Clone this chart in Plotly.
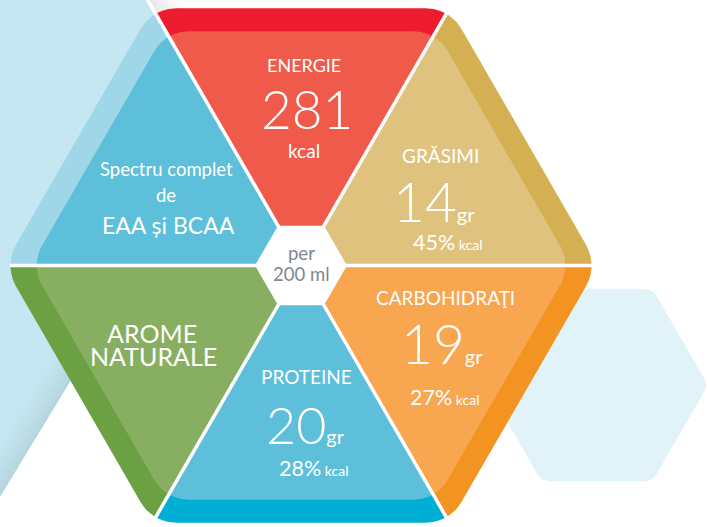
import numpy as np
import plotly.graph_objects as go

# ---------------- data ----------------
nutrients = ["ENERGIE", "GRĂSIMI", "CARBOHIDRAŢI", "PROTEINE"]
amounts = [281, 14, 19, 20]
units = ["kcal", "gr", "gr", "gr"]
kcal_percent = [None, 45, 27, 28]
feature_lines = ["Spectru complet", "de", "EAA și BCAA", "AROME", "NATURALE"]
serving_lines = ["per", "200 ml"]

# ---------------- geometry / style ----------------
W, H = 707, 527
CX, CY, R = 301.0, 265.5, 297.0
OUT_RND = 42
BAND = 23
IN_RND = 40
SMALL_R = 46
GAP_W = 3.5
FONT = "Lato, 'Open Sans', sans-serif"
TXT_W = 400
NUM_W = 300

# sector k lies between hexagon vertex k and k+1 (vertex k at 60k deg, counter-clockwise)
SECTOR_BAND = ["#D4B052", "#ED1C2E", "#9FD7E9", "#6BA043", "#00AFD3", "#F39321"]
SECTOR_FILL = ["#DFC27E", "#F05A4A", "#5DBFDA", "#88AF61", "#5DBFDA", "#F8A64F"]
BG_BLUE = "#C5E7F2"
PALE_HEX = "#E1F3F8"
GREY_TXT = "#7D8790"

LABEL_XY = [(304, 65), (440, 155.5), (445, 297.5), (306, 376.5)]
LABEL_SIZE = [18, 19, 19, 19]
VALUE_XY = [(307, 108.5), (434, 200.5), (441.5, 342.5), (305, 424)]
VALUE_SIZE = [53, 55, 55, 52]
ENERGY_UNIT_XY = (304, 150)
PCT_XY = [None, (447, 242), (444, 396.5), (313, 467.5)]
FEATURE_XY = [(166, 168.5), (166, 194.5), (168, 224.5), (152, 332.5), (153.5, 356)]
FEATURE_SIZE = [18.5, 18.5, 23, 25, 25]
SERVING_XY = [(301, 252.5), (301, 274)]


def hex_vertices(cx, cy, r):
    return [np.array([cx + r * np.cos(np.radians(60 * k)), cy - r * np.sin(np.radians(60 * k))])
            for k in range(6)]


def corner_arc(prev, p, nxt, rad, n=17):
    if rad <= 0:
        return [p]
    u1 = (prev - p) / np.linalg.norm(prev - p)
    u2 = (nxt - p) / np.linalg.norm(nxt - p)
    ang = np.arccos(np.clip(np.dot(u1, u2), -1, 1))
    d = rad / np.tan(ang / 2)
    t1 = p + u1 * d
    t2 = p + u2 * d
    bis = (u1 + u2) / np.linalg.norm(u1 + u2)
    o = p + bis * rad / np.sin(ang / 2)
    a1 = np.arctan2(t1[1] - o[1], t1[0] - o[0])
    a2 = np.arctan2(t2[1] - o[1], t2[0] - o[0])
    da = (a2 - a1 + np.pi) % (2 * np.pi) - np.pi
    return [o + rad * np.array([np.cos(a1 + da * s), np.sin(a1 + da * s)]) for s in np.linspace(0, 1, n)]


def to_path(pts, close=True):
    s = "M " + " L ".join(f"{p[0]:.2f},{p[1]:.2f}" for p in pts)
    return s + (" Z" if close else "")


def rounded_poly(pts, rads):
    out = []
    n = len(pts)
    for i in range(n):
        out += corner_arc(pts[i - 1], pts[i], pts[(i + 1) % n], rads[i])
    return out


shapes = []


def add_path(pts, color, close=True):
    shapes.append(dict(type="path", path=to_path(pts, close), xref="x", yref="y",
                       fillcolor=color, line=dict(width=0), layer="above"))


def add_line(p, q, color, width):
    shapes.append(dict(type="line", x0=p[0], y0=p[1], x1=q[0], y1=q[1], xref="x", yref="y",
                       line=dict(color=color, width=width), layer="above"))


C = np.array([CX, CY])
V = hex_vertices(CX, CY, R)

# ---- background light-blue area on the left ----
v2dir = (V[2] - C)
p_top = C + v2dir * (CY / (CY - V[2][1]))
apex = C + v2dir * ((CY - 132) / (CY - V[2][1]))
p_low = np.array([0.0, 500.0])
add_path([np.array([-5.0, -5.0]), p_top + np.array([-3, -5]), apex, p_low + np.array([-5, 8])], BG_BLUE)


def shadow(a, b, normal, steps=12, step=2.6, alpha0=0.10):
    for j in range(steps):
        o1 = 1.5 + j * step
        o2 = o1 + step
        al = alpha0 * (1 - j / steps) ** 1.5
        add_path([a + normal * o1, b + normal * o1, b + normal * o2, a + normal * o2],
                 f"rgba(60,60,60,{al:.3f})")


d_low = (p_low - apex) / np.linalg.norm(p_low - apex)
shadow(apex, p_low + d_low * 40, np.array([d_low[1], -d_low[0]]) * -1)
d_top = (apex - p_top) / np.linalg.norm(apex - p_top)
shadow(p_top - d_top * 10, apex, np.array([d_top[1], -d_top[0]]), alpha0=0.12)

add_line(p_top - d_top * 5, apex, "white", 3)
add_line(apex, p_low + d_low * 40, "white", 3)

# ---- pale hexagon on the right ----
PV = hex_vertices(597, 385, 111)
add_path(rounded_poly(PV, [14] * 6), PALE_HEX)

# ---- main hexagon sectors ----
arcs = [corner_arc(V[k - 1], V[k], V[(k + 1) % 6], OUT_RND) for k in range(6)]
R_in = R - BAND / np.sin(np.pi / 3)
VI = hex_vertices(CX, CY, R_in)
arcs_in = [corner_arc(VI[k - 1], VI[k], VI[(k + 1) % 6], IN_RND) for k in range(6)]
for k in range(6):
    add_path([C] + arcs[k][8:] + arcs[(k + 1) % 6][:9], SECTOR_BAND[k])
for k in range(6):
    add_path([C] + arcs_in[k][8:] + arcs_in[(k + 1) % 6][:9], SECTOR_FILL[k])

# white gaps between sectors
tip = R - OUT_RND * (1 / np.sin(np.pi / 3) - 1) + 0.5
for k in range(6):
    u = (V[k] - C) / R
    end = p_top if k == 2 else C + u * tip
    add_line(C, end, "white", GAP_W)

# centre white hexagon
SV = hex_vertices(CX, CY, SMALL_R)
add_path(rounded_poly(SV, [3] * 6), "white")

# ---------------- text ----------------
ann = []


def text(x, y, t, size, color="white", weight=TXT_W):
    ann.append(dict(x=x, y=y, xref="x", yref="y", text=t, showarrow=False,
                    xanchor="center", yanchor="middle",
                    font=dict(family=FONT, size=size, color=color, weight=weight)))


for i, name in enumerate(nutrients):
    text(LABEL_XY[i][0], LABEL_XY[i][1], name, LABEL_SIZE[i])
    if units[i] == "kcal":
        text(VALUE_XY[i][0], VALUE_XY[i][1], str(amounts[i]), VALUE_SIZE[i], weight=NUM_W)
        text(ENERGY_UNIT_XY[0], ENERGY_UNIT_XY[1], units[i], 19)
    else:
        text(VALUE_XY[i][0], VALUE_XY[i][1],
             f"{amounts[i]}<span style='font-size:20px;font-weight:400'>{units[i]}</span>",
             VALUE_SIZE[i], weight=NUM_W)
    if kcal_percent[i] is not None:
        text(PCT_XY[i][0], PCT_XY[i][1],
             f"{kcal_percent[i]}%<span style='font-size:14px'> kcal</span>", 21.5)

for (x, y), t, sz in zip(FEATURE_XY, feature_lines, FEATURE_SIZE):
    text(x, y, t, sz)

for (x, y), t in zip(SERVING_XY, serving_lines):
    text(x, y, t, 18.5, color=GREY_TXT)

fig = go.Figure()
fig.update_layout(
    width=W, height=H, margin=dict(l=0, r=0, t=0, b=0),
    paper_bgcolor="white", plot_bgcolor="white",
    xaxis=dict(range=[0, W], visible=False, fixedrange=True),
    yaxis=dict(range=[H, 0], visible=False, fixedrange=True),
    shapes=shapes, annotations=ann, showlegend=False,
)
fig.write_html("out.html", config={"displayModeBar": False},
               post_script="document.body.style.margin='0';document.body.style.overflow='hidden';")
